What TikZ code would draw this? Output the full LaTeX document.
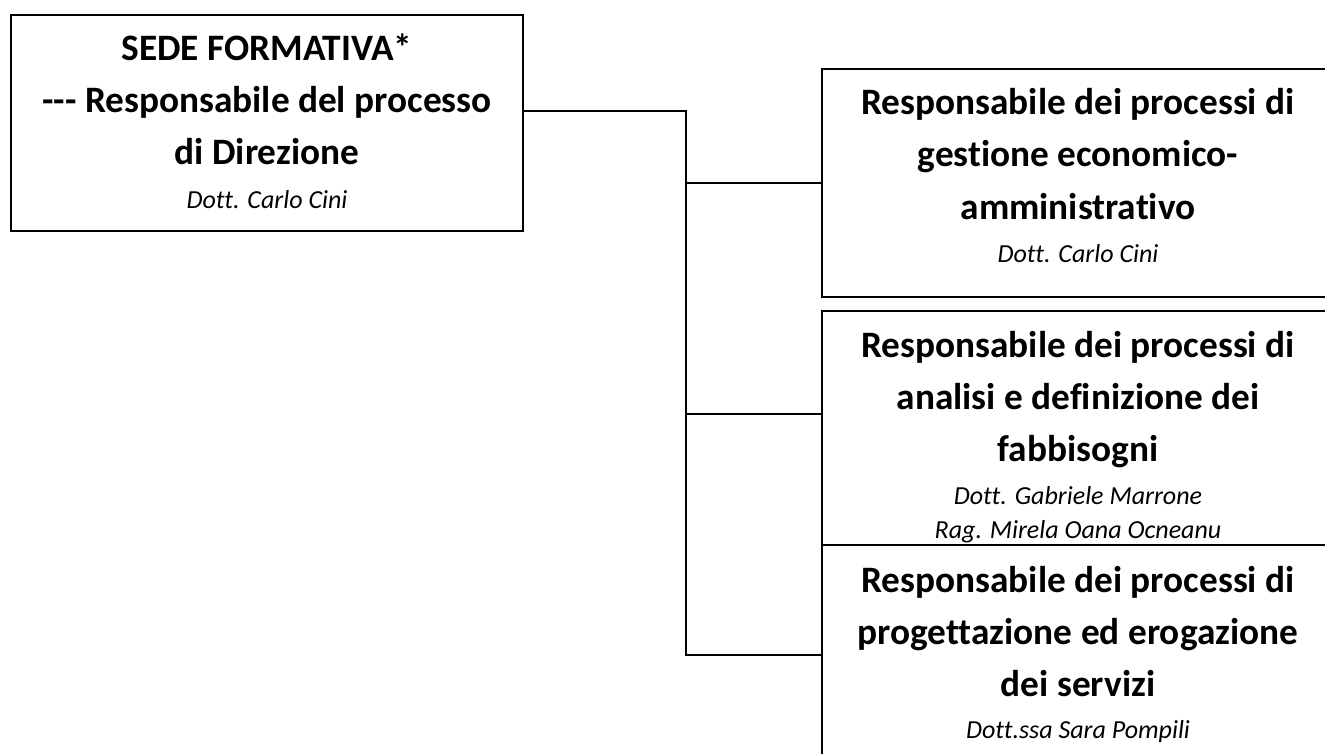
\documentclass[tikz,border=0pt]{standalone}
\usepackage{fontspec}
\setmainfont{Carlito}[Ligatures=NoCommon]
\usetikzlibrary{calc}
\tikzset{
  box/.style={draw, line width=1.6pt, fill=white, inner sep=0pt, outer sep=0pt, anchor=north west},
  ttl/.style={font=\fontsize{37.3}{44}\selectfont\bfseries, anchor=base, inner sep=0pt},
  who/.style={font=\fontsize{26}{31}\selectfont\itshape, anchor=base, inner sep=0pt},
  link/.style={line width=1.5pt},
}
\begin{document}
\begin{tikzpicture}[x=1pt,y=-1pt]
\useasboundingbox (0,0) rectangle (1325,754);
\fill[white] (0,0) rectangle (1325,754);
\clip (0,0) rectangle (1325,754);
% boxes
\node[box, minimum width=512pt, minimum height=216pt] (b1) at (11,15) {};
\node[box, minimum width=512pt, minimum height=228pt] (b2) at (822,69) {};
% connectors
\coordinate (j) at (686,111);
\draw[link] (b1.east |- j) -- (j) |- (b2.west);
\draw[link] (j) |- ($(b2.north west)+(0,345)$);
\draw[link] (j) |- ($(b2.north west)+(0,586)$);
% box 1 text
\node[ttl] (t1a) at (267,61) {SEDE FORMATIVA*};
\node[ttl] (t1b) at (267,113) {-{}-{}- Responsabile del processo};
\node[ttl] (t1c) at (267,165) {di Direzione};
\node[who] (t1d) at (267,208) {Dott. Carlo Cini};
% box 2 text
\node[ttl] (t2a) at (1078,115) {Responsabile dei processi di};
\node[ttl] (t2b) at (1078,167) {gestione economico-};
\node[ttl] (t2c) at (1078,219) {amministrativo};
\node[who] (t2d) at (1078,262) {Dott. Carlo Cini};
% box 3
\node[box, minimum width=512pt, minimum height=260pt] (b3) at (822,311) {};
\node[ttl] (t3a) at (1078,357) {Responsabile dei processi di};
\node[ttl] (t3b) at (1078,409) {analisi e definizione dei};
\node[ttl] (t3c) at (1078,461) {fabbisogni};
\node[who] (t3d) at (1078,504) {Dott. Gabriele Marrone};
\node[who] (t3e) at (1078,538) {Rag. Mirela Oana Ocneanu};
% box 4
\node[box, minimum width=512pt, minimum height=230pt] (b4) at (822,545) {};
\node[ttl] (t4a) at (1078,592) {Responsabile dei processi di};
\node[ttl] (t4b) at (1078,644) {progettazione ed erogazione};
\node[ttl] (t4c) at (1078,696) {dei servizi};
\node[who] (t4d) at (1078,738) {Dott.ssa Sara Pompili};
\end{tikzpicture}
\end{document}
